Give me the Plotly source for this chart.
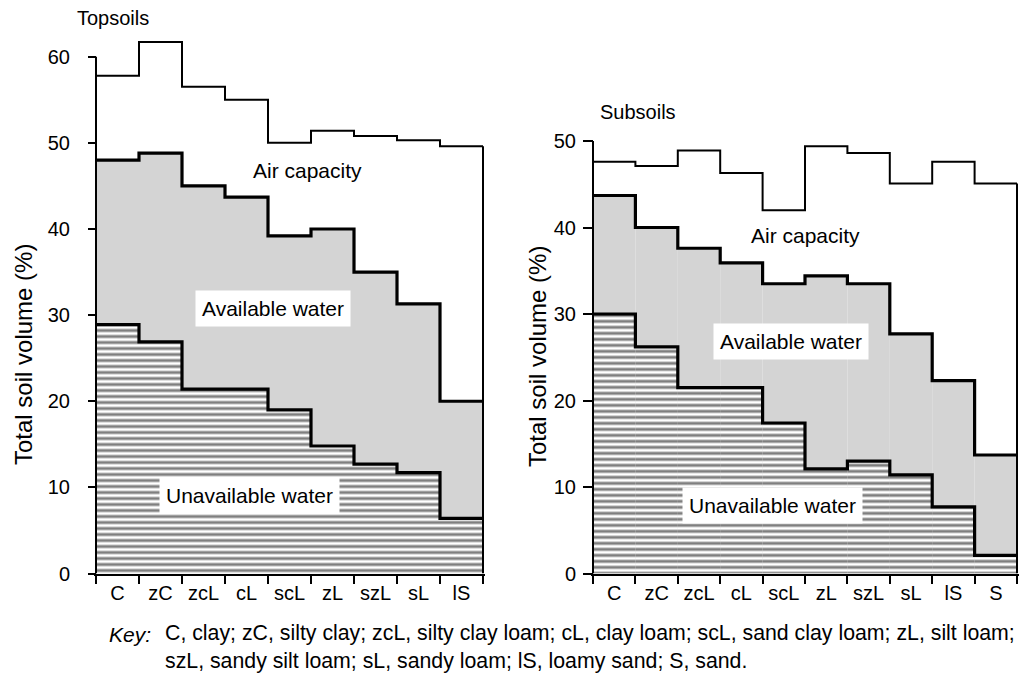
import plotly.graph_objects as go

# Topsoils: total porosity, field capacity and wilting point (% of soil volume)
top_soils = ["C", "zC", "zcL", "cL", "scL", "zL", "szL", "sL", "lS"]
top_total = [57.8, 61.7, 56.5, 55.0, 50.0, 51.4, 50.8, 50.3, 49.6]
top_fc = [48.0, 48.8, 45.0, 43.7, 39.2, 40.0, 35.0, 31.3, 20.0]
top_wp = [28.9, 26.9, 21.4, 21.4, 19.0, 14.8, 12.7, 11.7, 6.4]
top_ticks = [0, 10, 20, 30, 40, 50, 60]

# Subsoils
sub_soils = ["C", "zC", "zcL", "cL", "scL", "zL", "szL", "sL", "lS", "S"]
sub_total = [47.6, 47.1, 48.9, 46.3, 42.0, 49.4, 48.6, 45.1, 47.6, 45.1]
sub_fc = [43.7, 40.0, 37.6, 35.9, 33.5, 34.4, 33.5, 27.7, 22.3, 13.7]
sub_wp = [30.0, 26.2, 21.5, 21.5, 17.4, 12.1, 13.0, 11.4, 7.7, 2.1]
sub_ticks = [0, 10, 20, 30, 40, 50]

W, H = 1020, 678
GRAY = "#d4d4d4"
FONT = "Liberation Sans, Arial, sans-serif"

fig = go.Figure()


def add_panel(cats, total, fc, wp, xname, yname):
    n = len(cats)
    xs = list(range(n))
    edges = [i - 0.5 for i in range(n + 1)]
    common = dict(xaxis=xname, yaxis=yname, showlegend=False, hoverinfo="skip")
    # air-filled pores (white), available water (grey), unavailable water (hatched)
    fig.add_trace(go.Bar(x=xs, y=total, width=1, marker=dict(color="white", line_width=0), **common))
    fig.add_trace(go.Bar(x=xs, y=fc, width=1, marker=dict(color=GRAY, line_width=0), **common))
    fig.add_trace(go.Bar(
        x=xs, y=wp, width=1,
        marker=dict(color="white", line_width=0,
                    pattern=dict(shape="-", fgcolor="black", bgcolor="white",
                                 size=6, solidity=0.5)),
        **common))
    # stepped outlines of each boundary
    for vals, w in ((total, 2), (fc, 3.2), (wp, 3.2)):
        fig.add_trace(go.Scatter(x=edges, y=vals + [vals[-1]], mode="lines",
                                 line=dict(color="black", width=w, shape="hv"), **common))
    # right-hand closing edge
    fig.add_trace(go.Scatter(x=[edges[-1], edges[-1]], y=[0, total[-1]], mode="lines",
                             line=dict(color="black", width=2), **common))
    return edges


top_edges = add_panel(top_soils, top_total, top_fc, top_wp, "x", "y")
sub_edges = add_panel(sub_soils, sub_total, sub_fc, sub_wp, "x2", "y2")

# vertical axis lines, stopping at the highest tick
fig.add_trace(go.Scatter(x=[top_edges[0]] * 2, y=[0, top_ticks[-1]], mode="lines",
                         line=dict(color="black", width=2), xaxis="x", yaxis="y",
                         showlegend=False, hoverinfo="skip"))
fig.add_trace(go.Scatter(x=[sub_edges[0]] * 2, y=[0, sub_ticks[-1]], mode="lines",
                         line=dict(color="black", width=2), xaxis="x2", yaxis="y2",
                         showlegend=False, hoverinfo="skip"))


def px_x(p):
    return p / W


def px_y(p):
    return 1 - p / H


tick_font = dict(family=FONT, size=20, color="black")


def xaxis_cfg(cats, edges, left_px, right_px):
    pad = 0.05
    unit = (right_px - left_px) / len(cats)
    return dict(
        domain=[px_x(left_px - pad * unit), px_x(right_px + pad * unit)],
        range=[edges[0] - pad, edges[-1] + pad], automargin=False,
        tickmode="array", tickvals=list(range(len(cats))), ticktext=cats,
        ticks="", showline=True, linecolor="black", linewidth=2,
        showgrid=False, zeroline=False, tickfont=tick_font, ticklabelstandoff=0,
        minor=dict(tickmode="array", tickvals=edges, ticks="outside", ticklen=8,
                   tickwidth=2, tickcolor="black", showgrid=False),
    )


def yaxis_cfg(ticks, top_val, bottom_px, px_per_unit, axis_px, ticklen, standoff):
    top_px = bottom_px - top_val * px_per_unit
    return dict(
        domain=[px_y(bottom_px), px_y(top_px)], automargin=False,
        range=[0, top_val], anchor="free", position=px_x(axis_px),
        tickmode="array", tickvals=ticks, ticks="outside", ticklen=ticklen,
        tickwidth=2, tickcolor="black", showline=False, showgrid=False,
        zeroline=False, tickfont=tick_font, ticklabelstandoff=standoff,
    )


fig.update_layout(
    width=W, height=H,
    margin=dict(l=0, r=0, t=0, b=0, autoexpand=False),
    paper_bgcolor="white", plot_bgcolor="white",
    barmode="overlay",
    font=dict(family=FONT, color="black"),
    xaxis=xaxis_cfg(top_soils, top_edges, 96, 483) | dict(anchor="y"),
    yaxis=yaxis_cfg(top_ticks, 62, 573.5, 8.613, 96, 8, 14),
    xaxis2=xaxis_cfg(sub_soils, sub_edges, 593, 1017) | dict(anchor="y2"),
    yaxis2=yaxis_cfg(sub_ticks, 51, 573.5, 8.65, 593, 10, 3),
)


def note(text, x, y, size=20, xanchor="center", box=False, angle=0, align="center"):
    a = dict(text=text, x=px_x(x), y=px_y(y), xref="paper", yref="paper",
             xanchor=xanchor, yanchor="middle", showarrow=False, align=align,
             textangle=angle, font=dict(family=FONT, size=size, color="black"))
    if box:
        a.update(bgcolor="white", borderpad=6)
    fig.add_annotation(**a)


note("Topsoils", 75, 18, xanchor="left")
note("Subsoils", 598, 112, xanchor="left")
note("Total soil volume (%)", 23, 355, size=24, angle=-90)
note("Total soil volume (%)", 537, 357, size=24, angle=-90)

note("Air capacity", 307, 170, size=21)
note("Available water", 273, 309, size=21, box=True)
note("Unavailable water", 249, 495, size=21, box=True)
note("Air capacity", 805, 235, size=21)
note("Available water", 791, 341, size=21, box=True)
note("Unavailable water", 772, 505, size=21, box=True)

note("<i>Key:</i>", 107, 634, size=21, xanchor="left")
note("C, clay; zC, silty clay; zcL, silty clay loam; cL, clay loam; scL, sand clay loam; zL, silt loam;"
     "<br>szL, sandy silt loam; sL, sandy loam; lS, loamy sand; S, sand.",
     163, 647, size=21.3, xanchor="left", align="left")

fig.write_html("out.html")
